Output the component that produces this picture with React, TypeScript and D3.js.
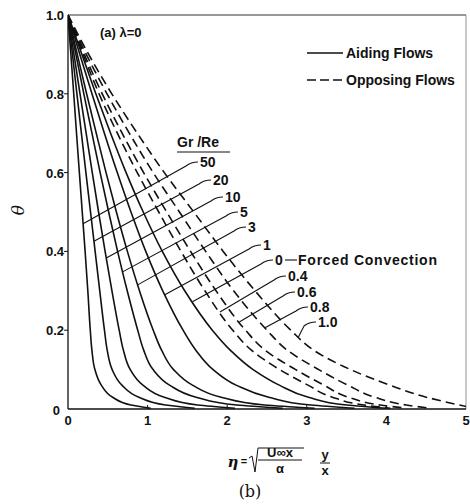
import React from "react";
import * as d3 from "d3";

// Dimensionless temperature levels shared by every profile
const THETA = [1, 0.9, 0.8, 0.7, 0.6, 0.5, 0.4, 0.3, 0.2, 0.15, 0.1, 0.06, 0.03, 0.01, 0.002];

// Similarity coordinate eta at each THETA level — aiding flows (solid)
const ETA_AID_50 = [0, 0.036, 0.072, 0.107, 0.143, 0.179, 0.215, 0.249, 0.28, 0.3, 0.338, 0.42, 0.56, 0.79, 1.04];
const ETA_AID_20 = [0, 0.056, 0.112, 0.168, 0.225, 0.283, 0.341, 0.399, 0.458, 0.492, 0.555, 0.68, 0.89, 1.225, 1.593];
const ETA_AID_10 = [0, 0.075, 0.151, 0.228, 0.305, 0.384, 0.466, 0.552, 0.643, 0.695, 0.782, 0.945, 1.21, 1.63, 2.098];
const ETA_AID_5 = [0, 0.099, 0.199, 0.301, 0.404, 0.511, 0.623, 0.744, 0.876, 0.95, 1.069, 1.28, 1.609, 2.121, 2.699];
const ETA_AID_3 = [0, 0.117, 0.234, 0.355, 0.478, 0.608, 0.746, 0.898, 1.071, 1.174, 1.326, 1.568, 1.924, 2.47, 3.099];
const ETA_AID_1 = [0, 0.149, 0.301, 0.457, 0.619, 0.791, 0.977, 1.19, 1.446, 1.604, 1.823, 2.118, 2.521, 3.05, 3.6];
const ETA_FORCED = [0, 0.175, 0.35, 0.535, 0.73, 0.945, 1.185, 1.466, 1.813, 2.035, 2.326, 2.66, 3.02, 3.5, 4.0];

// Opposing flows (dashed)
const ETA_OPP_04 = [0, 0.19, 0.39, 0.62, 0.87, 1.14, 1.42, 1.72, 2.07, 2.3, 2.66, 3.02, 3.32, 3.72, 4.05];
const ETA_OPP_06 = [0, 0.205, 0.43, 0.68, 0.95, 1.24, 1.54, 1.86, 2.23, 2.47, 2.86, 3.22, 3.52, 3.92, 4.25];
const ETA_OPP_08 = [0, 0.23, 0.49, 0.77, 1.07, 1.4, 1.73, 2.08, 2.5, 2.75, 3.15, 3.52, 3.85, 4.25, 4.55];
const ETA_OPP_10 = [0, 0.26, 0.55, 0.87, 1.21, 1.58, 1.95, 2.35, 2.8, 3.08, 3.55, 4.05, 4.5, 4.92, 5.1];

// Curve labels (Gr/Re) in the order they are listed beside the plot
const CURVE_LABELS = ["50", "20", "10", "5", "3", "1", "0", "0.4", "0.6", "0.8", "1.0"];
const CURVE_ETAS = [ETA_AID_50, ETA_AID_20, ETA_AID_10, ETA_AID_5, ETA_AID_3, ETA_AID_1, ETA_FORCED, ETA_OPP_04, ETA_OPP_06, ETA_OPP_08, ETA_OPP_10];
const CURVE_OPPOSING = [false, false, false, false, false, false, false, true, true, true, true];
// theta at which each label's leader line meets its curve
const LEADER_THETA = [0.47, 0.426, 0.383, 0.348, 0.315, 0.29, 0.272, 0.246, 0.221, 0.206, 0.183];

const X_TICKS = [0, 1, 2, 3, 4, 5];
const Y_TICKS = [0, 0.2, 0.4, 0.6, 0.8, 1.0];
const Y_TICK_LABELS = ["0", "0.2", "0.4", "0.6", "0.8", "1.0"];

// Layout: where each label's text starts (left edge, vertical centre)
const LABEL_ANCHORS: [number, number][] = [
  [200, 162], [213, 180], [225, 197], [240, 212], [248, 227], [263, 245],
  [275, 260], [288, 276], [297, 292], [310, 307], [318, 322],
];

const W = 470;
const H = 504;
const FONT = "'Liberation Sans', Arial, Helvetica, sans-serif";

function etaAt(etas: number[], theta: number): number {
  for (let i = 0; i < THETA.length - 1; i++) {
    const a = THETA[i];
    const b = THETA[i + 1];
    if (theta <= a && theta >= b) {
      const t = (a - theta) / (a - b);
      return etas[i] + t * (etas[i + 1] - etas[i]);
    }
  }
  return etas[etas.length - 1];
}

export default function App() {
  const x = d3.scaleLinear().domain([0, 5]).range([68, 466]);
  const y = d3.scaleLinear().domain([0, 1]).range([409, 15]);

  const line = d3
    .line<[number, number]>()
    .x((d) => x(d[0]))
    .y((d) => y(d[1]))
    .curve(d3.curveMonotoneY);

  const [x0, x1] = x.range();
  const [y0, y1] = y.range();

  return (
    <svg
      width={W}
      height={H}
      viewBox={`0 0 ${W} ${H}`}
      style={{ position: "fixed", left: 0, top: 0, background: "#fff" }}
      fontFamily={FONT}
    >
      <defs>
        <clipPath id="plot-clip">
          <rect x={x0} y={y1 - 2} width={x1 - x0} height={y0 - y1 + 2} />
        </clipPath>
      </defs>
      <rect x={0} y={0} width={W} height={H} fill="#fff" />

      {/* frame */}
      <line x1={x0} y1={y1} x2={x1} y2={y1} stroke="#333" strokeWidth={1} />
      <line x1={x1} y1={y1} x2={x1} y2={y0} stroke="#777" strokeWidth={0.8} />
      <line x1={x0} y1={y1} x2={x0} y2={y0} stroke="#111" strokeWidth={1.3} />
      <line x1={x0} y1={y0} x2={x1} y2={y0} stroke="#111" strokeWidth={1.3} />

      {/* y ticks */}
      {Y_TICKS.map((t, i) => (
        <g key={`yt${i}`}>
          {i > 0 && i < Y_TICKS.length - 1 && (
            <line x1={x0 - 4} x2={x0} y1={y(t)} y2={y(t)} stroke="#111" strokeWidth={1} />
          )}
          <text
            x={i === 0 ? x0 - 8 : x0 - 4}
            y={y(t) + (i === 0 ? 6 : 5)}
            textAnchor="end"
            fontSize={13}
            fontWeight="bold"
            fill="#111"
          >
            {Y_TICK_LABELS[i]}
          </text>
        </g>
      ))}

      {/* x ticks */}
      {X_TICKS.map((t, i) => (
        <g key={`xt${i}`}>
          {i > 0 && i < X_TICKS.length - 1 && (
            <line x1={x(t)} x2={x(t)} y1={y0} y2={y0 - 4} stroke="#111" strokeWidth={1} />
          )}
          <text x={x(t)} y={y0 + 16} textAnchor="middle" fontSize={13} fontWeight="bold" fill="#111">
            {t}
          </text>
        </g>
      ))}

      {/* profiles */}
      <g clipPath="url(#plot-clip)" fill="none" stroke="#111" strokeWidth={1.6}>
        {CURVE_ETAS.map((etas, i) => (
          <path
            key={`c${i}`}
            d={line(etas.map((e, j) => [e, THETA[j]] as [number, number])) || ""}
            strokeDasharray={CURVE_OPPOSING[i] ? "9 5" : undefined}
          />
        ))}
      </g>

      {/* leader lines and labels */}
      {CURVE_LABELS.map((lab, i) => {
        const [ax, ay] = LABEL_ANCHORS[i];
        const th = LEADER_THETA[i];
        const ex = x(etaAt(CURVE_ETAS[i], th));
        const ey = y(th);
        const sx = ax - 2;
        const d = `M${sx},${ay} Q${sx - 7},${ay} ${sx - 12},${ay + 4} L${ex},${ey}`;
        return (
          <g key={`l${i}`}>
            <path d={d} fill="none" stroke="#111" strokeWidth={1.1} />
            <text x={ax} y={ay + 5} fontSize={14} fontWeight="bold" fill="#111">
              {lab}
            </text>
          </g>
        );
      })}
      <line x1={285} x2={297} y1={260} y2={260} stroke="#111" strokeWidth={1.1} />
      <text x={298} y={265} fontSize={14} fontWeight="bold" fill="#111" textLength={139} lengthAdjust="spacing">
        Forced Convection
      </text>

      {/* Gr/Re heading */}
      <text x={177} y={147} fontSize={14} fontWeight="bold" fill="#111">
        Gr /Re
      </text>
      <line x1={177} x2={230} y1={152} y2={152} stroke="#111" strokeWidth={1.1} />

      {/* panel tag */}
      <text x={100} y={37} fontSize={13} fontWeight="bold" fill="#111">
        (a) λ=0
      </text>

      {/* legend */}
      <line x1={307} x2={343} y1={53} y2={53} stroke="#111" strokeWidth={1.3} />
      <text x={346} y={58} fontSize={14} fontWeight="bold" fill="#111">
        Aiding Flows
      </text>
      <line x1={307} x2={343} y1={80} y2={80} stroke="#111" strokeWidth={1.3} strokeDasharray="9 4" />
      <text x={346} y={85} fontSize={14} fontWeight="bold" fill="#111">
        Opposing Flows
      </text>

      {/* y-axis title */}
      <text
        transform="translate(24,210) rotate(-90)"
        textAnchor="middle"
        fontSize={17}
        fontStyle="italic"
        fontFamily="'DejaVu Serif', serif"
        fill="#111"
      >
        θ
      </text>

      {/* x-axis title: eta = sqrt(U∞x / α) · y / x */}
      <g fill="#111" fontWeight="bold">
        <text x={233} y={467} textAnchor="middle" fontSize={15} fontStyle="italic" fontFamily="'DejaVu Serif', serif">
          η
        </text>
        <text x={244} y={465} textAnchor="middle" fontSize={11}>
          =
        </text>
        <path d="M249,458 L252,456 L255,472 L258,448 L304,448" fill="none" stroke="#111" strokeWidth={1} />
        <text x={280} y={457} textAnchor="middle" fontSize={13}>
          U∞x
        </text>
        <line x1={258} x2={302} y1={460} y2={460} stroke="#111" strokeWidth={1} />
        <text x={280} y={473} textAnchor="middle" fontSize={13}>
          α
        </text>
        <text x={325} y={459} textAnchor="middle" fontSize={13}>
          y
        </text>
        <line x1={320} x2={330} y1={463} y2={463} stroke="#111" strokeWidth={1} />
        <text x={325} y={475} textAnchor="middle" fontSize={13}>
          x
        </text>
      </g>
      <text x={250} y={497} textAnchor="middle" fontSize={16} fontFamily="'DejaVu Serif', 'Liberation Serif', serif" fill="#111">
        (b)
      </text>
    </svg>
  );
}
